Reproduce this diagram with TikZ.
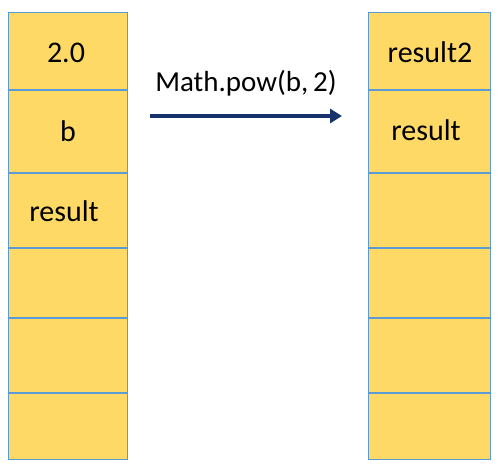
\documentclass[tikz,border=0pt]{standalone}
\usepackage{fontspec}
\setmainfont{Carlito}
\definecolor{cellfill}{HTML}{FFD966}
\definecolor{cellline}{HTML}{5B9BD5}
\definecolor{navy}{HTML}{17336B}
\usetikzlibrary{arrows.meta}
\begin{document}
\begin{tikzpicture}[x=1pt,y=-1pt,
  cell/.style={fill=cellfill,draw=cellline,line width=0.8pt},
  sep/.style={draw=cellline,line width=2.4pt},
  lbl/.style={font=\fontsize{30}{33}\selectfont,text=black,inner sep=0pt},
  call/.style={font=\fontsize{29}{32}\selectfont,text=black,inner sep=0pt}]
\useasboundingbox (0,0) rectangle (500,472);
\foreach \t/\b [count=\i] in {12/90,90/173,173/248,248/318,318/393,393/459}{
  \path[cell] (8,\t) rectangle (127,\b);
  \path[cell] (368,\t) rectangle (490,\b);
}
\foreach \y in {90,173,248,318,393}{
  \path[sep] (8,\y) -- (127,\y);
  \path[sep] (368,\y) -- (490,\y);
}
\node[lbl] (l1) at (66,53) {2.0};
\node[lbl] (l2) at (68,131) {b};
\node[lbl] (l3) at (64,211) {result};
\node[lbl] (r1) at (430,52) {result2};
\node[lbl] (r2) at (426,130) {result};
\coordinate (a1) at (150,116);
\coordinate (a2) at (342,116);
\draw[navy,line width=3.6pt,-{Triangle[length=12pt,width=14pt]}] (a1) -- (a2);
\node[call] (c) at (246,83) {Math.pow(b,\,2)};
\end{tikzpicture}
\end{document}
